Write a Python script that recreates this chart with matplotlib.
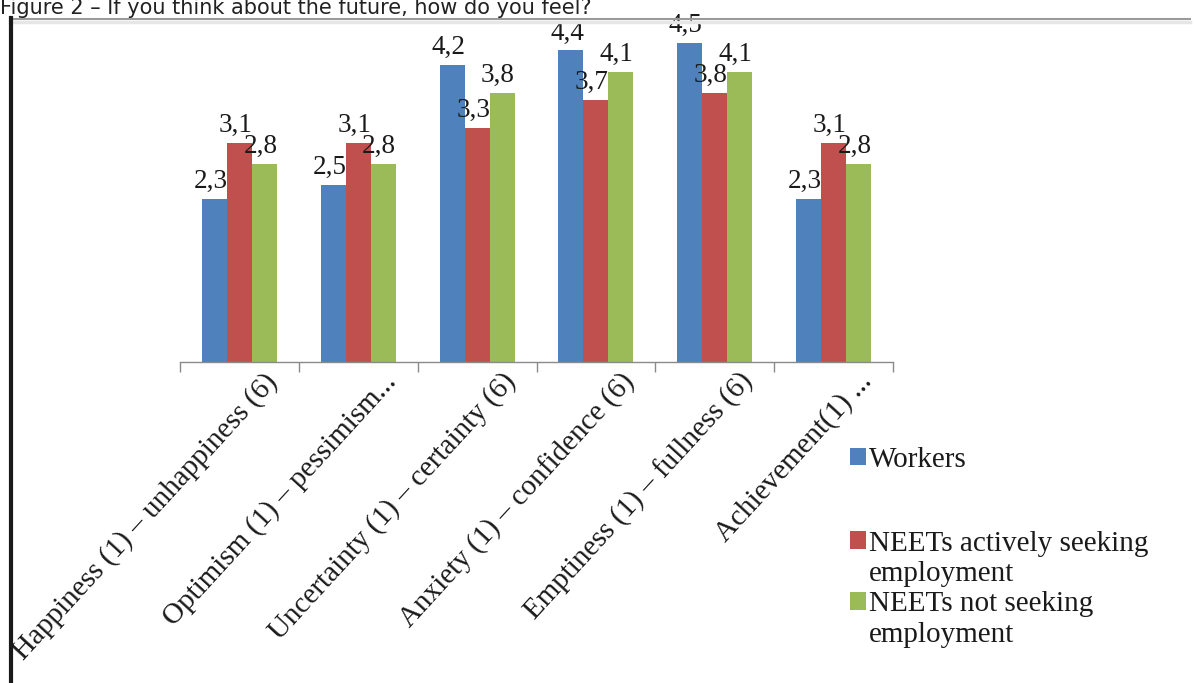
import matplotlib
matplotlib.use("Agg")
import matplotlib.pyplot as plt
import numpy as np
from matplotlib.lines import Line2D
from matplotlib.patches import Patch
from matplotlib.transforms import ScaledTranslation

caption = "Figure 2 – If you think about the future, how do you feel?"
categories = ["Happiness (1) – unhappiness (6)", "Optimism (1) – pessimism...",
              "Uncertainty (1) – certainty (6)", "Anxiety (1) – confidence (6)",
              "Emptiness (1) – fullness (6)", "Achievement(1) ..."]
series_names = ["Workers", "NEETs actively seeking", "NEETs not seeking"]
wrap_line = "employment"
workers = [2.3, 2.5, 4.2, 4.4, 4.5, 2.3]
neets_seeking = [3.1, 3.1, 3.3, 3.7, 3.8, 3.1]
neets_not_seeking = [2.8, 2.8, 3.8, 4.1, 4.1, 2.8]
colors = ["#4F81BD", "#C0504D", "#9BBB59"]

W, H, DPI = 1194, 683, 100
serif = "Liberation Serif"

fig = plt.figure(figsize=(W / DPI, H / DPI), dpi=DPI)
fig.patch.set_facecolor("white")

# plot area in pixel terms: x 180..893, baseline at y=362, ~70.8 px per unit
ax = fig.add_axes([180 / W, 1 - 362 / H, 713 / W, 4.9 * 70.8 / H])
x = np.arange(len(categories))
bw = 0.21
values = [workers, neets_seeking, neets_not_seeking]
for i, (vals, col) in enumerate(zip(values, colors)):
    b = ax.bar(x + (i - 1) * bw, vals, bw, color=col, linewidth=0, zorder=2)
    for rect, v in zip(b, vals):
        ax.annotate(f"{v:.1f}".replace(".", ","),
                    (rect.get_x() + rect.get_width() / 2, rect.get_height()),
                    xytext=(-4, 5), textcoords="offset pixels",
                    ha="center", va="bottom", fontsize=19.5, family=serif,
                    color="#1a1a1a", zorder=3)

ax.set_xlim(-0.5, len(categories) - 0.5)
ax.set_ylim(0, 4.9)
for s in ["top", "right", "left"]:
    ax.spines[s].set_visible(False)
ax.spines["bottom"].set_color("#8a8a8a")
ax.spines["bottom"].set_linewidth(1.0)
ax.set_yticks([])

ax.set_xticks(x)
ax.set_xticks(np.arange(-0.5, len(categories), 1.0), minor=True)
ax.tick_params(axis="x", which="minor", length=7, width=1.0, color="#8a8a8a", direction="out")
ax.tick_params(axis="x", which="major", length=0, pad=11)
ax.set_xticklabels(categories, rotation=47.5, ha="right", va="center",
                   rotation_mode="anchor", fontsize=21, family=serif, color="#1a1a1a")
shift = ScaledTranslation(34 / DPI, 0, fig.dpi_scale_trans)
for lbl in ax.get_xticklabels():
    lbl.set_transform(lbl.get_transform() + shift)

# legend: "Workers" on its own, the wrapped entries with the swatch on the first line
leg_kw = dict(frameon=False, borderpad=0, handlelength=0.55, handleheight=0.55,
              handletextpad=0.1, prop={"family": serif, "size": 21}, labelcolor="#1a1a1a")
h = [Patch(facecolor=c, edgecolor="none") for c in colors]
blank = Patch(facecolor="none", edgecolor="none")
fig.legend(h[:1], series_names[:1], loc="center left", labelspacing=0.0,
           bbox_to_anchor=(835 / W, 1 - 460 / H), **leg_kw)
fig.legend([h[1], blank, h[2], blank],
           [series_names[1], wrap_line, series_names[2], wrap_line],
           loc="upper left", labelspacing=0.15,
           bbox_to_anchor=(835 / W, 1 - 516 / H), **leg_kw)

# page frame and clipped caption
fig.add_artist(Line2D([10 / W, 1190 / W], [1 - 19 / H, 1 - 19 / H], color="#9a9a9a", lw=1.5))
fig.add_artist(Line2D([10 / W, 1190 / W], [1 - 22 / H, 1 - 22 / H], color="#e6e6e6", lw=2.5))
fig.add_artist(Line2D([11 / W, 11 / W], [0, 1 - 18 / H], color="#1a1a1a", lw=3))
fig.text(0, 1 - 14 / H, caption, fontsize=15, family="DejaVu Sans", color="#222222",
         ha="left", va="baseline")

fig.savefig("out.png", dpi=DPI)
